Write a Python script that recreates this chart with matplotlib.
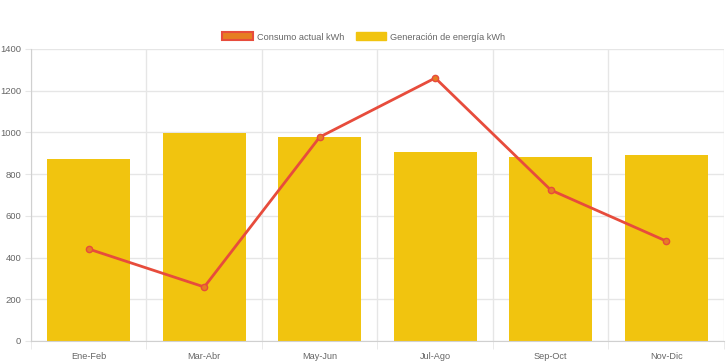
import numpy as np
import matplotlib.pyplot as plt
from matplotlib.patches import Patch

periodos = ["Ene-Feb", "Mar-Abr", "May-Jun", "Jul-Ago", "Sep-Oct", "Nov-Dic"]
generacion = [872, 997, 978, 906, 882, 892]
consumo = [441, 259, 978, 1261, 724, 479]

plt.rcParams['font.family'] = ['Liberation Sans', 'DejaVu Sans']

fig = plt.figure(figsize=(7.28, 3.63), dpi=100)
ax = fig.add_axes([31 / 728, 22 / 363, 693 / 728, 292 / 363])

x = np.arange(len(periodos))
ax.bar(x, generacion, width=0.72, color="#F1C40F", zorder=2,
       label="Generación de energía kWh")
ax.plot(x, consumo, color="#E74C3C", lw=2, marker="o", ms=4.5,
        mfc="#E67E22", mec="#E74C3C", mew=1, zorder=3,
        label="Consumo actual kWh")

ax.set_xlim(-0.5, len(periodos) - 0.5)
ax.set_ylim(0, 1400)
ax.set_yticks(range(0, 1401, 200))
ax.set_xticks(x)
ax.set_xticklabels(periodos)
ax.set_xticks(np.arange(-0.5, len(periodos)), minor=True)

grid_c = "#e6e6e6"
ax.grid(False)
ax.yaxis.grid(True, color=grid_c, lw=1, zorder=0)
ax.xaxis.grid(True, which="minor", color=grid_c, lw=1, zorder=0)
for s in ["top", "right"]:
    ax.spines[s].set_visible(False)
for s in ["left", "bottom"]:
    ax.spines[s].set_color("#d0d0d0")
ax.tick_params(axis="x", which="major", length=0, pad=8, labelsize=6.6, labelcolor="#666666")
ax.tick_params(axis="x", which="minor", length=6, color=grid_c)
ax.tick_params(axis="y", length=4, color=grid_c, pad=3, labelsize=6.8, labelcolor="#666666")

hl = [Patch(facecolor="#E67E22", edgecolor="#E74C3C", lw=1.5),
      Patch(facecolor="#F1C40F", edgecolor="#F1C40F")]
fig.legend(hl, ["Consumo actual kWh", "Generación de energía kWh"],
           loc="center", bbox_to_anchor=(0.5, 1 - 37 / 363), ncol=2, frameon=False,
           fontsize=6.6, labelcolor="#666666", handlelength=3.3, handleheight=0.95,
           handletextpad=0.5, columnspacing=1.2)

fig.savefig("out.png", dpi=100, facecolor="white")
